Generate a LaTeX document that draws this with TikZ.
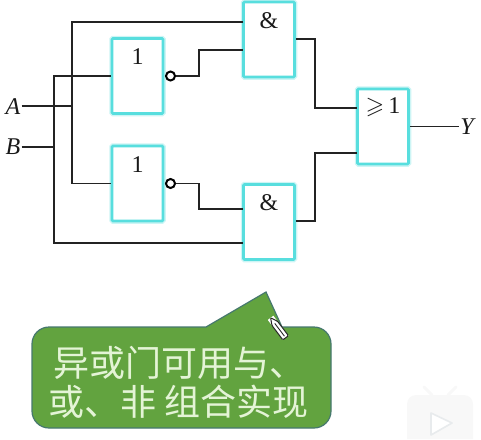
\documentclass[tikz,border=0pt]{standalone}
\usepackage{amssymb}
\usepackage{fontspec}
\setmainfont{Liberation Serif}
\newfontfamily\cjkfont{Noto Sans CJK SC}
\definecolor{gatecyan}{RGB}{88, 222, 222}
\definecolor{gateglow}{RGB}{205, 245, 245}
\definecolor{wireblack}{RGB}{35, 35, 35}
\definecolor{calloutgreen}{RGB}{98, 163, 63}
\definecolor{calloutedge}{RGB}{70, 120, 110}
\definecolor{callouttext}{RGB}{228, 244, 214}
\definecolor{logogray}{RGB}{248, 248, 248}
\definecolor{logoplay}{RGB}{232, 235, 237}
\usetikzlibrary{positioning}
\tikzset{
    gate/.style={rectangle, rounded corners=1pt, draw=gatecyan, line width=2.8pt, fill=white,
                 preaction={draw=gateglow, line width=5.5pt},
                 minimum width=51pt, minimum height=75pt, outer sep=1.4pt, inner sep=0pt,
                 label={[gatetext]center:#1}},
    gatetext/.style={font=\fontsize{24}{26}\selectfont, text=black!90, yshift=19pt},
    bubble/.style={circle, draw=black, line width=2pt, fill=white, minimum size=9pt, inner sep=0pt},
    wire/.style={line width=1.7pt, wireblack},
    portlabel/.style={font=\fontsize{24}{26}\selectfont\itshape, text=black!90, inner sep=1pt},
    callout/.style={draw=calloutedge, line width=1.2pt, fill=calloutgreen},
    callouttxt/.style={font=\fontsize{36}{39}\selectfont\cjkfont, text=callouttext, align=center, inner sep=0pt},
}
\begin{document}
\begin{tikzpicture}[x=1pt, y=-1pt]
    \useasboundingbox (0,0) rectangle (481,439);
    % gates
    \node[gate=1] (inv1) at (137.5,76) {};
    \node[gate=1] (inv2) at (137.5,183.5) {};
    \node[gate=\&] (and1) at (269,39.5) {};
    \node[gate=\&] (and2) at (269,222) {};
    \node[gate={$\geqslant$\,1}] (or1) at (383,126.5) {};
    \node[bubble] (bub1) at (170.5,76) {};
    \node[bubble] (bub2) at (170.5,183.5) {};
    % ports
    \node[portlabel] (A) at (13,107) {A};
    \node[portlabel] (B) at (13,147) {B};
    \node[portlabel] (Y) at (467,127) {Y};
    \coordinate (jA) at (72,106);
    \coordinate (jB) at (54,147);
    \coordinate (and1a) at (243,22);
    \coordinate (and1b) at (243,50);
    \coordinate (and2a) at (243,209);
    \coordinate (and2b) at (243,243);
    \coordinate (or1a) at (357,108);
    \coordinate (or1b) at (357,153);
    % wires
    \draw[wire] (A.east |- jA) -- (jA);
    \draw[wire] (B.east |- jB) -- (jB);
    \draw[wire] (and1a) -| (jA) |- (inv2.west);
    \draw[wire] (inv1.west) -| (jB) |- (and2b);
    \draw[wire] (bub1.east) -- ++(23,0) |- (and1b);
    \draw[wire] (bub2.east) -- ++(23,0) |- (and2a);
    \draw[wire] (and1.east |- 0,39) -- ++(19,0) |- (or1a);
    \draw[wire] (and2.east |- 0,221) -- ++(19,0) |- (or1b);
    \draw[wire] (or1.east) -- (or1.east -| Y.west);
    % callout
    \draw[callout, rounded corners=17pt] (100,327) [sharp corners] -- (206,327) -- (266,292) -- (282,327)
        [rounded corners=17pt] -- (331,327) -- (331,428) -- (32,428) -- (32,327) -- cycle;
    \node[callouttxt] (tip) at (179,382) {异或门可用与、\\或、非 组合实现};
    % pencil
    \begin{scope}[shift={(279,329)}, rotate=-53]
        \fill[white] (-14,-3.5) rectangle (11,3.5);
        \draw[black!85, line width=1pt, fill=white, rounded corners=1pt] (-7,-3.5) -- (11,-3.5) -- (11,3.5) -- (-7,3.5) -- (-14,0) -- cycle;
        \draw[black!85, line width=0.9pt] (-7,0) -- (9,0);
    \end{scope}
    % logo
    \fill[logogray] (415,439) -- (407,439) -- (407,404) arc[start angle=180, end angle=90, radius=9pt] -- (464,395) arc[start angle=90, end angle=0, radius=9pt] -- (473,439) -- cycle;
    \draw[logogray, line width=3pt, line cap=round] (424,387) -- (432,395) (456,387) -- (448,395);
    \draw[logoplay, line width=1.6pt, line join=round, fill=white] (431,413) -- (452,423) -- (431,435) -- cycle;
\end{tikzpicture}
\end{document}
